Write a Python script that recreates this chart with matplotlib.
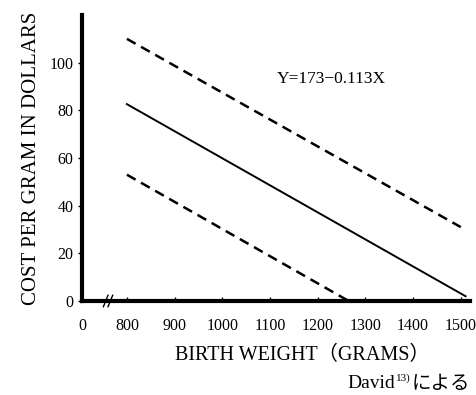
import matplotlib
matplotlib.use("Agg")
import matplotlib.pyplot as plt

plt.rcParams['font.family'] = ['Liberation Serif', 'Noto Sans CJK JP']

# Data (grams, dollars per gram)
upper_x = [800, 1500]
upper_y = [110, 31]
mid_x = [800, 1510]
mid_y = [82.6, 2]
lower_x = [800, 1265]
lower_y = [53, 0]

xtick_vals = [706, 800, 900, 1000, 1100, 1200, 1300, 1400, 1500]
xtick_labels = ["0", "800", "900", "1000", "1100", "1200", "1300", "1400", "1500"]
ytick_vals = [0, 20, 40, 60, 80, 100]

fig = plt.figure(figsize=(4.77, 3.95), dpi=100)
ax = fig.add_axes([0.172, 0.238, 0.813, 0.724])

ax.plot(upper_x, upper_y, color='black', lw=1.8, ls=(0, (4, 2.5)))
ax.plot(mid_x, mid_y, color='black', lw=1.4)
ax.plot(lower_x, lower_y, color='black', lw=1.8, ls=(0, (4, 2.5)))

ax.set_xlim(706, 1519)
ax.set_ylim(0, 120)
ax.set_xticks(xtick_vals)
ax.set_xticklabels(xtick_labels)
ax.set_yticks(ytick_vals)
ax.tick_params(axis='both', labelsize=11.5, length=3, width=1, direction='out')
ax.tick_params(axis='x', direction='in', length=3, pad=12)
ax.tick_params(axis='y', pad=3)

for s in ['top', 'right']:
    ax.spines[s].set_visible(False)
ax.spines['left'].set_linewidth(3)
ax.spines['bottom'].set_linewidth(3)

# axis break marks
for dx in (0.0, 0.012):
    ax.plot([0.055 + dx, 0.067 + dx], [-0.02, 0.02], transform=ax.transAxes,
            color='black', lw=1, clip_on=False)

ax.text(1229, 93, "Y=173\u22120.113X", fontsize=12.5, ha='center', va='center')

ax.set_ylabel("COST PER GRAM IN DOLLARS", fontsize=15, labelpad=6)
fig.text(0.633, 0.10, "BIRTH WEIGHT\uff08GRAMS\uff09", fontsize=14.5, ha='center', va='center')

t3 = fig.text(0.985, 0.028, "による", fontsize=14, ha='right', va='center',
              family=['Noto Sans CJK JP'])
t2 = ax.annotate("13)", xy=(0, 0.78), xycoords=t3, xytext=(-0.5, 0),
                 textcoords='offset points', fontsize=8, ha='right', va='center',
                 annotation_clip=False)
t1 = ax.annotate("David", xy=(0, 0.5), xycoords=(t2, t3), xytext=(-0.5, 0),
                 textcoords='offset points', fontsize=14, ha='right', va='center',
                 annotation_clip=False)

fig.savefig("out.png", dpi=100)
